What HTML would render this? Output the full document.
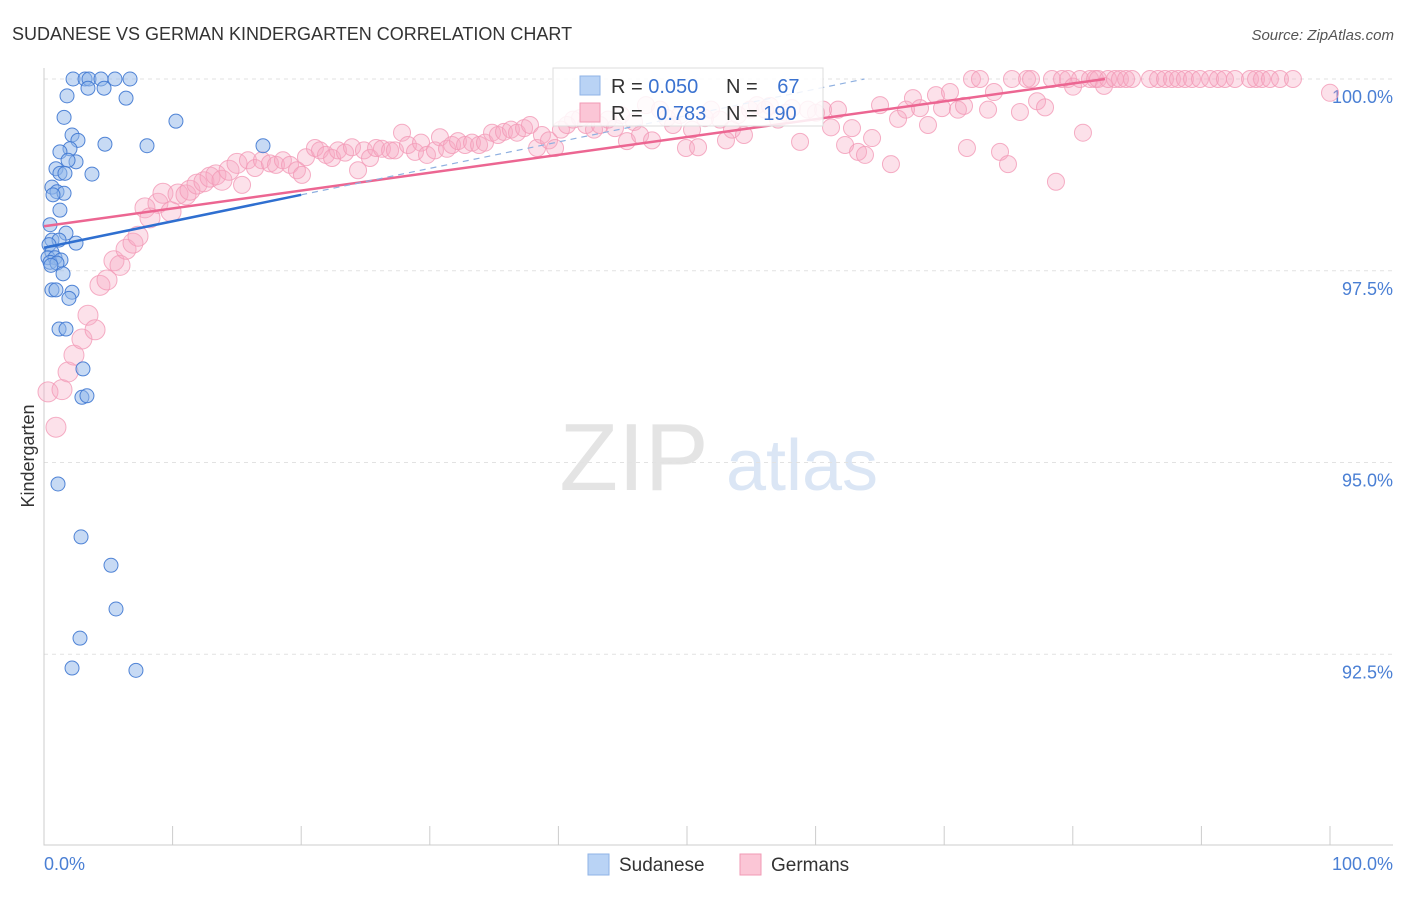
<!DOCTYPE html>
<html><head><meta charset="utf-8">
<style>
body{margin:0;background:#fff;font-family:"Liberation Sans",sans-serif;}
svg text{font-family:"Liberation Sans",sans-serif;}
</style></head>
<body>
<svg id="chart" width="1406" height="892" xmlns="http://www.w3.org/2000/svg">
<text x="12" y="40" font-size="18" fill="#333">SUDANESE VS GERMAN KINDERGARTEN CORRELATION CHART</text>
<text x="1394" y="40" font-size="15" fill="#555" font-style="italic" text-anchor="end">Source: ZipAtlas.com</text>
<text x="634" y="490" font-size="96" fill="#e4e4e4" font-family="Liberation Serif" text-anchor="middle">ZIP</text>
<text x="802" y="490" font-size="72" fill="#dbe6f5" text-anchor="middle">atlas</text>
<text transform="translate(34,456) rotate(-90)" font-size="18" fill="#333" text-anchor="middle">Kindergarten</text>
<g id="grid"></g><g id="axes"></g><g id="pink"></g><g id="blue"></g><g id="lines"></g>
<g>
<rect x="553" y="68" width="270" height="58" fill="#fff" fill-opacity="0.85" stroke="#ddd"/>
<rect x="580" y="76" width="20" height="19" fill="#b9d3f5" stroke="#8fb3e6"/>
<rect x="580" y="103" width="20" height="19" fill="#fbc6d6" stroke="#f09ab4"/>
<text x="611" y="93" font-size="20" fill="#333">R = <tspan fill="#3a72d0">0.050</tspan></text>
<text x="726" y="93" font-size="20" fill="#333">N = <tspan fill="#3a72d0" dx="14">67</tspan></text>
<text x="611" y="120" font-size="20" fill="#333">R = <tspan fill="#3a72d0" dx="8">0.783</tspan></text>
<text x="726" y="120" font-size="20" fill="#333">N = <tspan fill="#3a72d0">190</tspan></text>
</g>
<g>
<rect x="588" y="854" width="21" height="21" fill="#b9d3f5" stroke="#8fb3e6"/>
<text x="619" y="871" font-size="19" fill="#333">Sudanese</text>
<rect x="740" y="854" width="21" height="21" fill="#fbc6d6" stroke="#f09ab4"/>
<text x="771" y="871" font-size="19" fill="#333">Germans</text>
</g>
</svg>
<script>
const blueX=[2.26,3.19,3.5,4.43,5.52,6.69,3.42,4.67,1.79,6.38,1.56,10.26,2.18,2.64,4.74,8.01,17.03,2.02,1.24,2.49,1.87,0.93,1.24,3.73,1.63,0.62,1.01,1.56,0.7,1.24,0.47,1.71,0.62,1.17,2.49,0.39,0.62,0.31,0.86,1.32,0.47,1.01,0.54,1.48,0.62,2.18,0.93,1.94,1.17,1.71,3.03,2.95,3.34,1.09,2.88,5.21,5.6,2.8,2.18,7.15];
const blueY=[100,100,100,100,100,100,99.88,99.88,99.78,99.75,99.5,99.45,99.27,99.2,99.15,99.13,99.13,99.09,99.05,98.92,98.94,98.83,98.77,98.76,98.77,98.59,98.53,98.51,98.49,98.29,98.1,97.99,97.9,97.9,97.86,97.84,97.74,97.67,97.67,97.64,97.61,97.6,97.57,97.46,97.25,97.22,97.25,97.14,96.74,96.74,96.22,95.85,95.87,94.72,94.03,93.66,93.09,92.71,92.32,92.29];
const pinkX=[0.31,0.93,1.4,1.87,2.33,2.95,3.42,3.97,4.35,4.9,5.44,5.91,6.38,6.92,7.31,7.85,8.24,8.86,9.25,9.88,10.42,11.04,11.35,11.9,12.44,12.91,13.37,13.84,14.39,15.01,15.4,15.86,16.41,16.95,17.57,18.04,18.58,19.13,19.67,20.06,20.37,21.07,21.46,21.93,22.4,22.86,23.41,23.95,24.42,24.88,25.35,25.82,26.28,26.91,27.29,27.84,28.3,28.85,29.32,29.78,30.4,30.79,31.34,31.73,32.19,32.74,33.28,33.83,34.29,34.84,35.3,35.77,36.31,36.78,37.33,37.79,38.34,38.72,39.27,39.74,40.2,40.67,41.14,41.68,42.15,42.77,43.23,43.86,44.4,44.87,45.33,45.88,46.35,46.81,47.28,47.9,48.44,48.91,49.46,49.92,50.39,50.86,51.4,51.87,52.57,53.03,53.5,53.97,54.43,54.9,55.44,56.07,56.45,57.08,57.7,58.16,58.79,59.41,60.03,60.58,61.2,61.74,62.29,62.83,63.3,63.84,64.39,65.01,65.86,66.41,67.03,67.57,68.12,68.74,69.36,69.83,70.45,71.07,71.54,71.77,72.16,72.78,73.41,73.87,74.34,74.96,75.27,75.89,76.44,76.75,77.22,77.84,78.38,78.69,79.16,79.63,80.02,80.56,80.79,81.34,81.73,81.96,82.43,82.74,83.28,83.67,84.14,84.6,86,86.63,87.17,87.71,88.18,88.72,89.27,89.89,90.67,91.29,91.83,92.61,93.78,94.25,94.71,95.33,96.11,97.12,100];
const pinkY=[95.92,95.46,95.95,96.18,96.4,96.61,96.92,96.73,97.31,97.38,97.63,97.57,97.78,97.86,97.95,98.32,98.19,98.38,98.51,98.27,98.5,98.49,98.55,98.63,98.66,98.72,98.75,98.68,98.81,98.9,98.62,98.94,98.84,98.94,98.9,98.88,98.94,98.88,98.81,98.75,98.98,99.1,99.07,99.01,98.97,99.07,99.04,99.11,98.81,99.07,98.97,99.1,99.09,99.07,99.07,99.3,99.14,99.05,99.17,99.01,99.07,99.24,99.09,99.14,99.19,99.14,99.17,99.14,99.17,99.3,99.27,99.31,99.34,99.3,99.36,99.4,99.1,99.27,99.2,99.1,99.34,99.4,99.47,99.49,99.4,99.34,99.4,99.47,99.36,99.53,99.19,99.44,99.27,99.66,99.2,99.6,99.49,99.4,99.53,99.1,99.34,99.11,99.49,99.6,99.47,99.2,99.34,99.53,99.27,99.6,99.66,99.6,99.65,99.47,99.56,99.62,99.18,99.6,99.56,99.6,99.37,99.6,99.14,99.36,99.05,99.01,99.23,99.66,98.89,99.48,99.6,99.75,99.62,99.4,99.79,99.62,99.83,99.6,99.65,99.1,100,100,99.6,99.83,99.05,98.89,100,99.57,100,100,99.71,99.63,100,98.66,100,100,99.9,100,99.3,100,100,100,99.91,100,100,100,100,100,100,100,100,100,100,100,100,100,100,100,100,100,100,100,100,100,100,100,99.82];
const yTicks=[100,97.5,95,92.5];
const yTickLabels=["100.0%","97.5%","95.0%","92.5%"];
const X0=44,X1=1330,Y100=79,PXPER=76.7;
const xs=v=>X0+(X1-X0)*v/100;
const ys=v=>Y100+(100-v)*PXPER;
const NS="http://www.w3.org/2000/svg";
function mk(tag,attrs,parent){const e=document.createElementNS(NS,tag);for(const k in attrs)e.setAttribute(k,attrs[k]);parent.appendChild(e);return e;}
const grid=document.getElementById('grid'),axes=document.getElementById('axes');
yTicks.forEach((t,i)=>{
  const l=mk('line',{x1:X0,x2:1393,y1:ys(t),y2:ys(t),stroke:'#e2e2e2','stroke-dasharray':'4,4'},grid);
  
  
  const tx=mk('text',{x:1393,y:ys(t)+24,'font-size':18,fill:'#4a7fd4','text-anchor':'end'},axes);
  tx.textContent=yTickLabels[i];
  
  
});
const ax=mk('path',{d:`M${X0},68V845H1393`,stroke:'#ccc',fill:'none'},axes);


for(let i=0;i<=10;i++){const t=mk('line',{x1:xs(i*10),x2:xs(i*10),y1:826,y2:845,stroke:'#ccc'},axes);
  
  }
const xl0=mk('text',{x:44,y:870,'font-size':18,fill:'#4a7fd4'},axes);xl0.textContent='0.0%';


const xl1=mk('text',{x:1393,y:870,'font-size':18,fill:'#4a7fd4','text-anchor':'end'},axes);xl1.textContent='100.0%';


const pg=document.getElementById('pink');
pinkX.forEach((x,i)=>{const c=mk('circle',{cx:xs(x),cy:ys(pinkY[i]),r:i<30?10:8.5,fill:'#f7a8c2','fill-opacity':0.35,stroke:'#f29ab6','stroke-opacity':0.8},pg);
  
  });
const bg=document.getElementById('blue');
blueX.forEach((x,i)=>{const c=mk('circle',{cx:xs(x),cy:ys(blueY[i]),r:7,fill:'#8fb6ea','fill-opacity':0.5,stroke:'#3f78d2','stroke-opacity':0.9},bg);
  
  });
const lg=document.getElementById('lines');
const pl=mk('line',{x1:xs(0),y1:ys(98.08),x2:xs(82.5),y2:ys(100),stroke:'#ec6692','stroke-width':2.5},lg);


const bl=mk('line',{x1:xs(0),y1:ys(97.8),x2:xs(20),y2:ys(98.49),stroke:'#2f6fd0','stroke-width':2.5},lg);


const bd=mk('line',{x1:xs(20),y1:ys(98.49),x2:xs(63.8),y2:ys(100),stroke:'#8fb0e0','stroke-width':1.2,'stroke-dasharray':'6,5'},lg);


</script>
</body></html>
